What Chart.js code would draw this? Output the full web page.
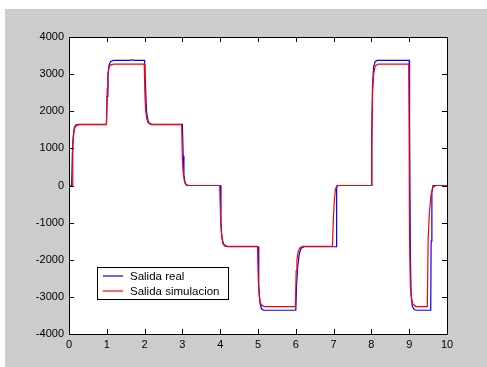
<!DOCTYPE html>
<html>
<head>
<meta charset="utf-8">
<script src="https://cdn.jsdelivr.net/npm/chart.js@4.4.1/dist/chart.umd.min.js"></script>
<style>
  html, body { margin: 0; padding: 0; background: #fff; }
  canvas { display: block; }
</style>
</head>
<body>
<canvas id="plot" width="487" height="367"></canvas>
<script>
// salida real (blue)
var realTime = [0, 0.07, 0.09, 0.11, 0.14, 0.18, 0.25,
  0.99, 1.01, 1.03, 1.06, 1.10, 1.18, 1.62, 1.65, 1.75,
  2.00, 2.02, 2.05, 2.09, 2.13, 2.20,
  3.00, 3.02, 3.04, 3.07, 3.12,
  4.00, 4.02, 4.04, 4.07, 4.12, 4.20,
  5.00, 5.02, 5.05, 5.09, 5.15,
  6.00, 6.02, 6.05, 6.09, 6.14, 6.22,
  7.07, 7.08, 7.10,
  8.00, 8.01, 8.03, 8.06, 8.10, 8.16,
  9.00, 9.01, 9.03, 9.05, 9.08, 9.13, 9.20,
  9.57, 9.58, 9.60, 9.63, 10];
var realValues = [0, 0, 900, 1300, 1560, 1630, 1650,
  1650, 2400, 2950, 3250, 3340, 3370, 3370, 3385, 3370,
  3370, 2800, 2000, 1750, 1670, 1650,
  1650, 800, 300, 60, 0,
  0, -1000, -1350, -1560, -1630, -1650,
  -1650, -2700, -3150, -3320, -3360,
  -3360, -2700, -2200, -1850, -1690, -1650,
  -1650, -100, 0,
  0, 1400, 2700, 3200, 3340, 3370,
  3370, 1800, -1800, -2900, -3250, -3340, -3360,
  -3360, -1500, -200, 0, 0];

// salida simulacion (red)
var simTime = [0, 0.08, 0.10, 0.12, 0.15, 0.20, 0.28,
  0.99, 1.01, 1.03, 1.06, 1.10, 1.18,
  1.99, 2.01, 2.03, 2.06, 2.10, 2.18,
  2.98, 3.00, 3.02, 3.05, 3.09, 3.16,
  3.99, 4.01, 4.03, 4.06, 4.10, 4.18,
  4.99, 5.01, 5.03, 5.06, 5.10, 5.18,
  5.99, 6.01, 6.03, 6.06, 6.10, 6.18,
  6.97, 6.99, 7.02, 7.05, 7.09,
  7.99, 8.01, 8.03, 8.06, 8.10, 8.18,
  8.99, 9.01, 9.03, 9.06, 9.10, 9.18,
  9.48, 9.50, 9.53, 9.57, 9.62, 9.70, 10];
var simValues = [0, 0, 1000, 1350, 1550, 1620, 1640,
  1640, 2600, 3000, 3180, 3250, 3270,
  3270, 2400, 2000, 1780, 1680, 1640,
  1640, 700, 350, 130, 40, 0,
  0, -900, -1250, -1480, -1590, -1640,
  -1640, -2600, -2950, -3150, -3230, -3260,
  -3260, -2300, -2000, -1800, -1690, -1640,
  -1640, -1000, -400, -100, 0,
  0, 1000, 2500, 3000, 3220, 3270,
  3270, -1500, -2700, -3050, -3200, -3260,
  -3260, -1500, -800, -300, -60, 0, 0];

var xTicks = [0, 1, 2, 3, 4, 5, 6, 7, 8, 9, 10];
var yTicks = [-4000, -3000, -2000, -1000, 0, 1000, 2000, 3000, 4000];
var seriesNames = ['Salida real', 'Salida simulacion'];
var seriesColors = ['#0000ff', '#ff0000'];

function pairs(ts, vs) {
  var out = [];
  for (let i = 0; i < ts.length; i++) {
    out.push({ x: ts[i], y: vs[i] });
  }
  return out;
}

const tickFont = { family: '"Liberation Sans", Arial, sans-serif', size: 11 };

// matlab style frame: gray figure, white axes, ticks inside on all 4 sides, legend box
const matlabFrame = {
  id: 'matlabFrame',
  beforeDraw(chart) {
    const c = chart.ctx;
    const a = chart.chartArea;
    c.save();
    c.fillStyle = '#ffffff';
    c.fillRect(0, 0, chart.width, chart.height);
    c.fillStyle = '#cccccc';
    c.fillRect(5, 9, chart.width - 5, chart.height - 9);
    c.fillStyle = '#ffffff';
    c.fillRect(a.left, a.top, a.right - a.left, a.bottom - a.top);
    c.restore();
  },
  afterDraw(chart) {
    const c = chart.ctx;
    const a = chart.chartArea;
    const xs = chart.scales.x;
    const ys = chart.scales.y;
    c.save();
    c.strokeStyle = '#000';
    c.lineWidth = 1;
    c.strokeRect(Math.round(a.left) + 0.5, Math.round(a.top) + 0.5,
      Math.round(a.right - a.left), Math.round(a.bottom - a.top));
    c.beginPath();
    xTicks.forEach(function (v) {
      const px = Math.round(xs.getPixelForValue(v)) + 0.5;
      c.moveTo(px, a.bottom); c.lineTo(px, a.bottom - 5);
      c.moveTo(px, a.top); c.lineTo(px, a.top + 5);
    });
    yTicks.forEach(function (v) {
      const py = Math.round(ys.getPixelForValue(v)) + 0.5;
      c.moveTo(a.left, py); c.lineTo(a.left + 5, py);
      c.moveTo(a.right, py); c.lineTo(a.right - 5, py);
    });
    c.stroke();

    // legend
    const lx = 97, ly = 267, lw = 131, lh = 32;
    c.fillStyle = '#ffffff';
    c.fillRect(lx, ly, lw, lh);
    c.strokeStyle = '#000';
    c.strokeRect(lx + 0.5, ly + 0.5, lw, lh);
    c.font = '11.5px "Liberation Sans", Arial, sans-serif';
    c.textBaseline = 'middle';
    c.textAlign = 'left';
    for (let i = 0; i < seriesNames.length; i++) {
      const yy = ly + 9 + i * 15;
      c.strokeStyle = seriesColors[i];
      c.lineWidth = 1.2;
      c.beginPath();
      c.moveTo(lx + 6, yy); c.lineTo(lx + 26, yy);
      c.stroke();
      c.fillStyle = '#000';
      c.fillText(seriesNames[i], lx + 33, yy + 1);
    }
    c.restore();
  }
};

const ctx = document.getElementById('plot').getContext('2d');
const chart = new Chart(ctx, {
  type: 'line',
  data: {
    datasets: [{
      label: seriesNames[0],
      data: pairs(realTime, realValues),
      borderColor: seriesColors[0],
      borderWidth: 1.2,
      pointRadius: 0,
      tension: 0,
      order: 2
    }, {
      label: seriesNames[1],
      data: pairs(simTime, simValues),
      borderColor: seriesColors[1],
      borderWidth: 1.2,
      pointRadius: 0,
      tension: 0,
      order: 1
    }]
  },
  options: {
    responsive: false,
    animation: false,
    devicePixelRatio: 1,
    layout: { padding: { top: 37, right: 40, left: 0, bottom: 0 } },
    plugins: { legend: { display: false }, tooltip: { enabled: false } },
    scales: {
      x: {
        type: 'linear',
        min: 0, max: 10,
        afterFit: function (s) { s.height = 33; },
        afterBuildTicks: function (s) { s.ticks = xTicks.map(v => ({ value: v })); },
        grid: { display: false, drawTicks: false },
        border: { display: false },
        ticks: { color: '#000', font: tickFont, padding: 4, maxRotation: 0,
          callback: v => String(v) }
      },
      y: {
        type: 'linear',
        min: -4000, max: 4000,
        afterFit: function (s) { s.width = 69; },
        afterBuildTicks: function (s) { s.ticks = yTicks.map(v => ({ value: v })); },
        grid: { display: false, drawTicks: false },
        border: { display: false },
        ticks: { color: '#000', font: tickFont, padding: 5,
          callback: v => String(v) }
      }
    }
  },
  plugins: [matlabFrame]
});
</script>
</body>
</html>
